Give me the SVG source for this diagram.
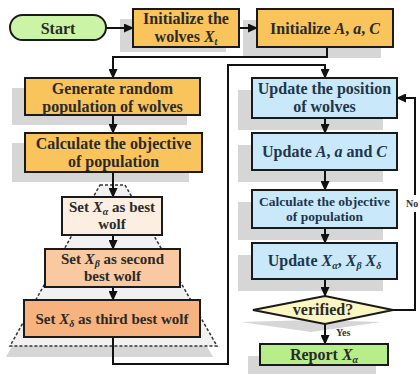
<svg xmlns="http://www.w3.org/2000/svg" width="420" height="374" viewBox="0 0 420 374">
<defs>
<marker id="ah" markerUnits="userSpaceOnUse" markerWidth="10" markerHeight="9" refX="9" refY="4.5" orient="auto">
<path d="M0,0 L10,4.5 L0,9 z" fill="#111"/>
</marker>
<style>
.box{stroke:#1a1a1a;stroke-width:2}
.sh{fill:#d6d6d6}
.or{fill:#f9c45c}
.bl{fill:#c9e9fa}
.t{font-family:'Liberation Serif','Tinos','DejaVu Serif',serif;font-weight:bold;font-size:16px;fill:#2a2a2a;text-anchor:middle}
.tb{fill:#22354a}
.s15{font-size:15px}
.s13{font-size:13.5px}
.i{font-style:italic}
.sub{font-size:10px;font-style:italic}
.c{fill:none;stroke:#111;stroke-width:2}
.sm{font-family:'Liberation Serif','DejaVu Serif',serif;font-weight:bold;fill:#333}
</style>
</defs>
<rect width="420" height="374" fill="#fff"/>

<g id="shadows">
<rect class="sh" x="120" y="19" width="106" height="33"/>
<rect class="sh" x="243" y="20" width="138" height="38"/>
<rect class="sh" x="12" y="88" width="175" height="37"/>
<rect class="sh" x="12" y="143" width="177" height="39"/>
<polygon class="sh" points="96,195 121,195 213,357 6,357"/>
<rect class="sh" x="238" y="90" width="145" height="40"/>
<rect class="sh" x="238" y="145" width="145" height="37"/>
<rect class="sh" x="238" y="202" width="145" height="38"/>
<rect class="sh" x="238" y="255" width="145" height="36"/>
<polygon class="sh" points="241,322 311,320 381,322 311,332"/>
<rect class="sh" x="248" y="356" width="128" height="18"/>
</g>

<g id="group-trapezoid">
<polygon points="100,185 125,185 217,346 10,346" fill="#f1f1f1" stroke="#333" stroke-width="1.5" stroke-dasharray="3,2"/>
</g>

<g id="connectors">
<line class="c" x1="106" y1="28" x2="133" y2="28" marker-end="url(#ah)"/>
<line class="c" x1="239" y1="28" x2="257" y2="28" marker-end="url(#ah)"/>
<path class="c" d="M327,47 V57 H113 V78" marker-end="url(#ah)"/>
<line class="c" x1="113" y1="115" x2="113" y2="133" marker-end="url(#ah)"/>
<line class="c" x1="113" y1="172" x2="113" y2="197" marker-end="url(#ah)"/>
<line class="c" x1="113" y1="235" x2="113" y2="249" marker-end="url(#ah)"/>
<line class="c" x1="113" y1="287" x2="113" y2="300" marker-end="url(#ah)"/>
<path class="c" d="M113,337 V364 H228 V65 H325 V78" marker-end="url(#ah)"/>
<line class="c" x1="325" y1="118" x2="325" y2="133" marker-end="url(#ah)"/>
<line class="c" x1="325" y1="170" x2="325" y2="190" marker-end="url(#ah)"/>
<line class="c" x1="325" y1="228" x2="325" y2="243" marker-end="url(#ah)"/>
<line class="c" x1="325" y1="279" x2="325" y2="296" marker-end="url(#ah)"/>
<line class="c" x1="325" y1="324" x2="325" y2="344" marker-end="url(#ah)"/>
<path class="c" d="M393,310 H415 V98 H397" marker-end="url(#ah)"/>
<text class="sm" x="336" y="336" font-size="10">Yes</text>
<rect x="405" y="195" width="15" height="17" fill="#fff"/>
<text class="sm" x="406" y="207" font-size="10">No</text>
</g>

<g id="start">
<rect class="box" x="10" y="15" width="96" height="25" rx="12.5" fill="#ccf4a6"/>
<text class="t" x="58" y="33.5">Start</text>
</g>

<g id="init-wolves">
<rect class="box or" x="133" y="9" width="106" height="38"/>
<text class="t" x="186" y="24">Initialize the</text>
<text class="t" x="186" y="42">wolves <tspan class="i">X</tspan><tspan class="sub" dy="3">t</tspan></text>
</g>

<g id="init-aac">
<rect class="box or" x="257" y="9" width="136" height="38"/>
<text class="t" x="325" y="33.5">Initialize <tspan class="i">A</tspan>, <tspan class="i">a</tspan>, <tspan class="i">C</tspan></text>
</g>

<g id="generate">
<rect class="box or" x="25" y="78" width="175" height="37"/>
<text class="t" x="112.5" y="94">Generate random</text>
<text class="t" x="112.5" y="112">population of wolves</text>
</g>

<g id="calc-left">
<rect class="box or" x="25" y="133" width="177" height="39"/>
<text class="t" x="113.5" y="149">Calculate the objective</text>
<text class="t" x="113.5" y="167">of population</text>
</g>

<g id="set-alpha">
<rect class="box" x="62" y="197" width="100" height="38" fill="#fdeee2"/>
<text class="t s15" x="112" y="212">Set <tspan class="i">X</tspan><tspan class="sub" dy="3">α</tspan><tspan dy="-3"> as best</tspan></text>
<text class="t s15" x="112" y="229">wolf</text>
</g>

<g id="set-beta">
<rect class="box" x="45" y="249" width="135" height="38" fill="#f9caa2"/>
<text class="t s15" x="112.5" y="264">Set <tspan class="i">X</tspan><tspan class="sub" dy="3">β</tspan><tspan dy="-3"> as second</tspan></text>
<text class="t s15" x="112.5" y="281">best wolf</text>
</g>

<g id="set-delta">
<rect class="box" x="24" y="300" width="176" height="37" fill="#f6b37f"/>
<text class="t s15" x="112" y="324">Set <tspan class="i">X</tspan><tspan class="sub" dy="3">δ</tspan><tspan dy="-3"> as third best wolf</tspan></text>
</g>

<g id="update-pos">
<rect class="box bl" x="252" y="78" width="145" height="40"/>
<text class="t tb" x="324.5" y="94">Update the position</text>
<text class="t tb" x="324.5" y="112">of wolves</text>
</g>

<g id="update-aac">
<rect class="box bl" x="252" y="133" width="145" height="37"/>
<text class="t tb" x="324.5" y="157">Update <tspan class="i">A</tspan>, <tspan class="i">a</tspan> and <tspan class="i">C</tspan></text>
</g>

<g id="calc-right">
<rect class="box bl" x="252" y="190" width="145" height="38"/>
<text class="t tb s13" x="324.5" y="206">Calculate the objective</text>
<text class="t tb s13" x="324.5" y="221">of population</text>
</g>

<g id="update-x">
<rect class="box bl" x="252" y="243" width="145" height="36"/>
<text class="t tb" x="324.5" y="266">Update <tspan class="i">X</tspan><tspan class="sub" dy="3">α</tspan><tspan dy="-3">, </tspan><tspan class="i">X</tspan><tspan class="sub" dy="3">β</tspan><tspan dy="-3"> </tspan><tspan class="i">X</tspan><tspan class="sub" dy="3">δ</tspan></text>
</g>

<g id="verified">
<polygon class="box" points="253,310 325,296 393,310 325,324" fill="#fbf6c2"/>
<text class="t" x="323" y="315">verified?</text>
</g>

<g id="report">
<rect class="box" x="260" y="344" width="128" height="21" fill="#b8ee8a"/>
<text class="t" x="324" y="360">Report <tspan class="i">X</tspan><tspan class="sub" dy="3">α</tspan></text>
</g>
</svg>
